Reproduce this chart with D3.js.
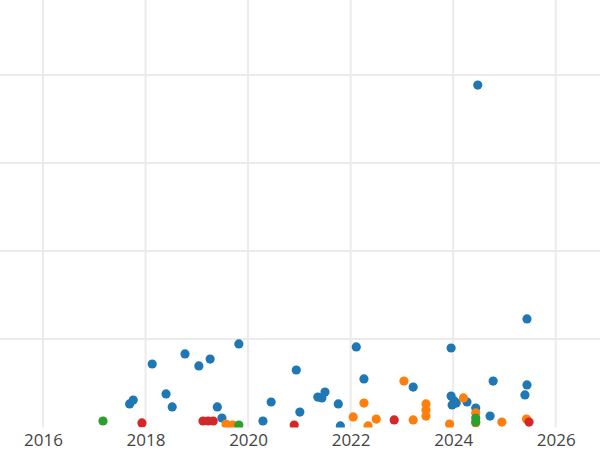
<!DOCTYPE html>
<html>
<head>
<meta charset="utf-8">
<script src="https://cdn.jsdelivr.net/npm/d3@7"></script>
<style>
  html, body { margin: 0; padding: 0; background: #fff; }
  svg { display: block; }
</style>
</head>
<body>
<svg id="chart" width="600" height="450"></svg>
<script>
// ---- data (decimal year, value) ----
const seriesNames = ["blue", "orange", "green", "red"];
const seriesColors = ["#1f77b4", "#ff7f0e", "#2ca02c", "#d62728"];

const blueX = [2017.69, 2017.76, 2018.13, 2018.40, 2018.52, 2018.77, 2019.04, 2019.26, 2019.40, 2019.49,
               2019.82, 2020.29, 2020.45, 2020.94, 2021.01, 2021.36, 2021.44, 2021.50, 2021.76, 2021.80,
               2022.11, 2022.26, 2023.22, 2023.96, 2023.96, 2023.98, 2024.02, 2024.06, 2024.27, 2024.44,
               2024.48, 2024.72, 2024.78, 2025.40, 2025.44, 2025.44];
const blueY = [13.1, 15.3, 35.8, 18.8, 11.4, 41.5, 34.7, 38.6, 11.4, 5.1,
               47.2, 3.4, 14.2, 32.4, 8.5, 17.0, 16.5, 19.9, 13.1, 0.6,
               45.5, 27.3, 22.7, 44.9, 17.6, 12.5, 14.8, 13.6, 14.2, 10.8,
               194.3, 6.2, 26.1, 18.2, 61.4, 23.9];

const orangeX = [2019.57, 2019.70, 2022.05, 2022.26, 2022.34, 2022.50, 2023.04, 2023.22, 2023.47, 2023.47,
                 2023.47, 2023.93, 2024.20, 2024.44, 2024.44, 2024.95, 2025.43];
const orangeY = [1.7, 1.1, 5.7, 13.6, 0.6, 4.5, 26.1, 4.0, 13.1, 9.7,
                 6.2, 1.7, 16.5, 8.0, 2.3, 2.8, 4.5];

const greenX = [2017.17, 2019.82, 2024.44, 2024.44];
const greenY = [3.4, 1.1, 5.1, 2.8];

const redX = [2017.93, 2019.12, 2019.22, 2019.32, 2020.90, 2022.85, 2025.48];
const redY = [2.3, 3.4, 3.4, 3.4, 1.1, 4.0, 2.8];

const xTicks = [2016, 2018, 2020, 2022, 2024, 2026];
const xGrid = [2016, 2018, 2020, 2022, 2024, 2026];
const yGrid = [50, 100, 150, 200];

// ---- drawing ----
const W = 600, H = 450;
const plotBottom = 427.5;
const svg = d3.select("#chart");

const x = d3.scaleLinear().domain([2016, 2026]).range([43, 555.7]);
const y = d3.scaleLinear().domain([0, 200]).range([427, 75]);

svg.append("defs").append("clipPath").attr("id", "plotclip")
  .append("rect").attr("x", 0).attr("y", 0).attr("width", W).attr("height", plotBottom);

// grid
const grid = svg.append("g");
grid.selectAll("line.v").data(xGrid).join("line")
  .attr("class", "v")
  .attr("x1", d => x(d)).attr("x2", d => x(d))
  .attr("y1", 0).attr("y2", plotBottom)
  .attr("stroke", "#ebebeb").attr("stroke-width", 2);
grid.selectAll("line.h").data(yGrid).join("line")
  .attr("class", "h")
  .attr("x1", 0).attr("x2", W)
  .attr("y1", d => y(d)).attr("y2", d => y(d))
  .attr("stroke", "#ebebeb").attr("stroke-width", 2);

// points
const series = [
  { xs: blueX, ys: blueY, c: seriesColors[0] },
  { xs: orangeX, ys: orangeY, c: seriesColors[1] },
  { xs: greenX, ys: greenY, c: seriesColors[2] },
  { xs: redX, ys: redY, c: seriesColors[3] }
];
const pts = svg.append("g").attr("clip-path", "url(#plotclip)");
series.forEach(s => {
  const data = s.xs.map((v, i) => [v, s.ys[i]]);
  pts.append("g").selectAll("circle").data(data).join("circle")
    .attr("cx", d => x(d[0]))
    .attr("cy", d => y(d[1]))
    .attr("r", 4.6)
    .attr("fill", s.c);
});

// x axis labels
const xAxis = d3.axisBottom(x).tickValues(xTicks).tickFormat(d3.format("d")).tickSize(0).tickPadding(0);
const ax = svg.append("g").attr("transform", `translate(0, ${plotBottom})`).call(xAxis);
ax.select(".domain").remove();
ax.selectAll("text")
  .attr("dy", null)
  .attr("y", 18.3)
  .attr("font-family", "'Open Sans', sans-serif")
  .attr("font-size", 17)
  .attr("fill", "#444");
</script>
</body>
</html>
